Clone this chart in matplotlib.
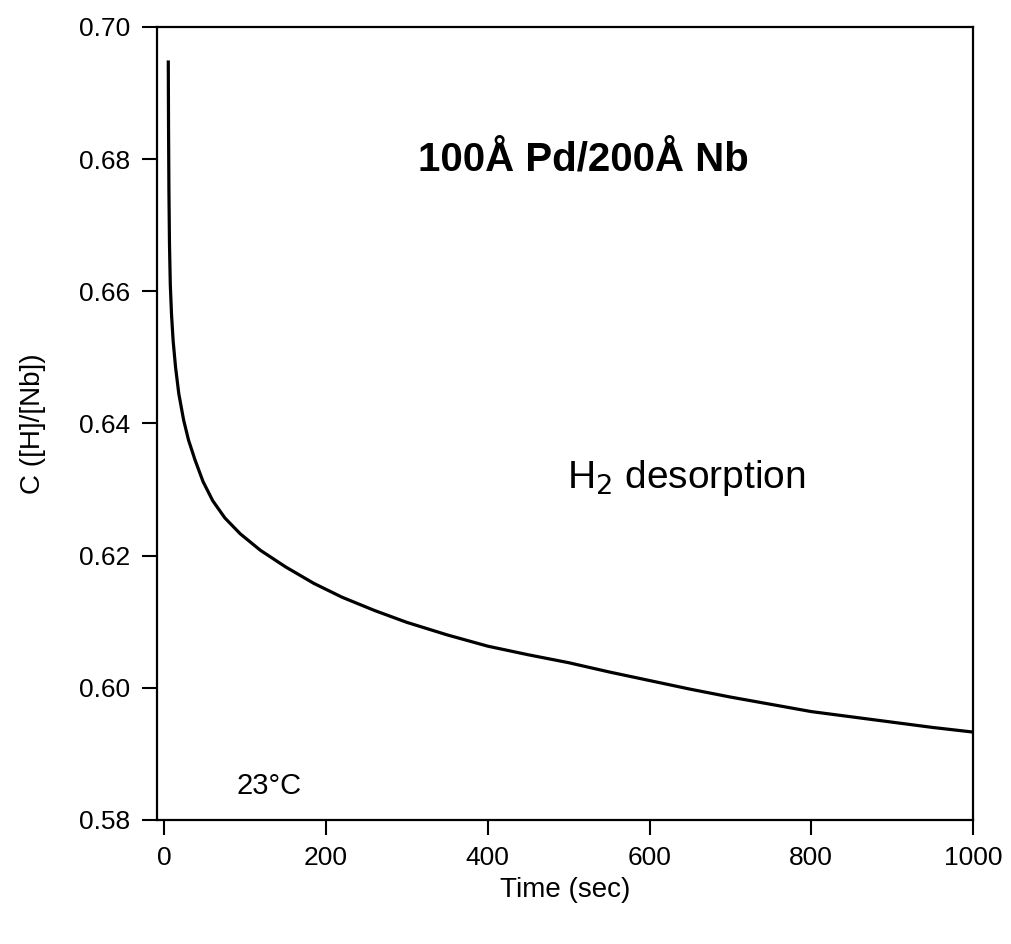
import matplotlib
matplotlib.use("Agg")
import matplotlib.pyplot as plt

plt.rcParams['font.family'] = ['Liberation Sans', 'DejaVu Sans']

# desorption curve, C = [H]/[Nb] vs time in seconds
time_s = [5, 5.3, 5.8, 6.5, 7.5, 9, 11, 14, 18, 24, 30, 38, 48, 60, 75,
          94, 119, 150, 185, 220, 260, 300, 350, 400, 450, 500, 550, 600,
          650, 700, 750, 800, 850, 900, 950, 1000]
conc = [0.6947, 0.6850, 0.6750, 0.6670, 0.6610, 0.6565, 0.6525, 0.6485,
        0.6445, 0.6405, 0.6375, 0.6345, 0.6312, 0.6283, 0.6257, 0.6233,
        0.6208, 0.6183, 0.6158, 0.6137, 0.6117, 0.6099, 0.6080, 0.6063,
        0.6050, 0.6038, 0.6024, 0.6011, 0.5998, 0.5986, 0.5975, 0.5964,
        0.5956, 0.5948, 0.5940, 0.5933]

x_ticks = [0, 200, 400, 600, 800, 1000]
y_ticks = [0.58, 0.60, 0.62, 0.64, 0.66, 0.68, 0.70]


def main():
    fig = plt.figure(figsize=(10.12, 9.44), dpi=100)
    ax = fig.add_axes([0.1551, 0.1314, 0.8064, 0.8400])

    ax.plot(time_s, conc, color='black', lw=2.3)

    ax.set_xlim(-9, 1000)
    ax.set_ylim(0.58, 0.70)
    ax.set_xticks(x_ticks)
    ax.set_yticks(y_ticks)
    ax.set_xticklabels([str(t) for t in x_ticks])
    ax.set_yticklabels(['%.2f' % v for v in y_ticks])
    ax.tick_params(direction='out', length=11, width=1.5, labelsize=19,
                   pad=8)
    for s in ax.spines.values():
        s.set_linewidth(1.6)

    ax.set_xlabel('Time (sec)', fontsize=20, labelpad=5)
    ax.set_ylabel('C ([H]/[Nb])', fontsize=20, labelpad=24)

    ax.text(0.523, 0.833, '100Å Pd/200Å Nb', transform=ax.transAxes,
            fontsize=29, fontweight='bold', ha='center', va='center')
    ax.text(0.502, 0.431, 'H$_2$ desorption', transform=ax.transAxes,
            fontsize=28, ha='left', va='center')
    ax.text(0.097, 0.043, '23°C', transform=ax.transAxes,
            fontsize=21, ha='left', va='center')

    fig.savefig('out.png', dpi=100)


if __name__ == "__main__":
    main()
